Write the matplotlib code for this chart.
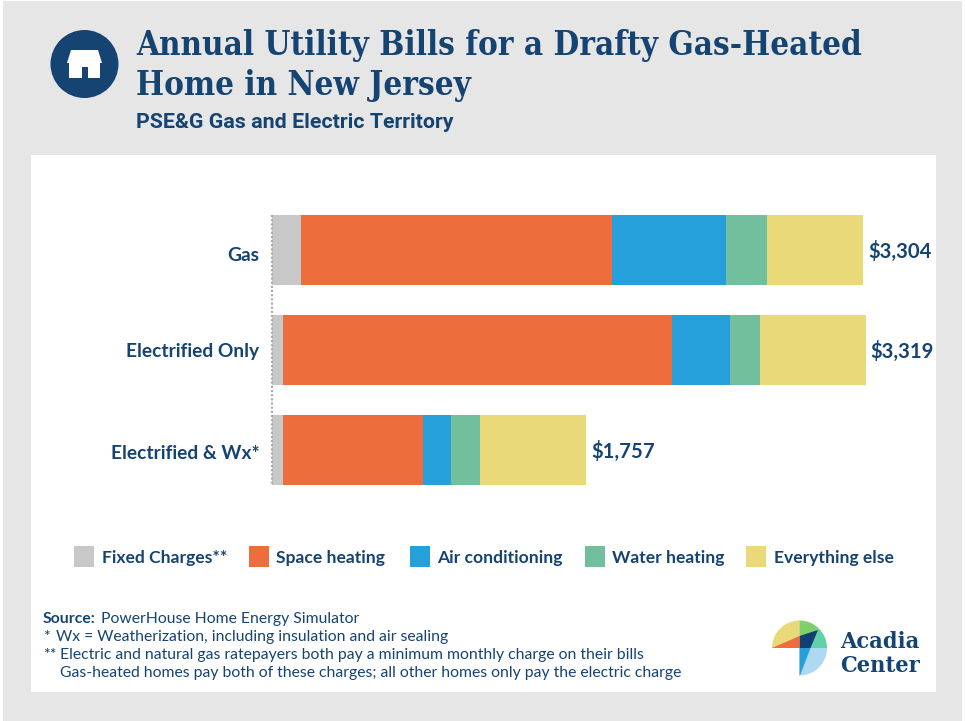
import matplotlib
matplotlib.use('Agg')
import matplotlib.pyplot as plt
from matplotlib.patches import Rectangle, Circle, Polygon, Wedge

categories = ['Gas', 'Electrified Only', 'Electrified & Wx*']
series_names = ['Fixed Charges**', 'Space heating', 'Air conditioning', 'Water heating', 'Everything else']
fixed = [165, 64, 64]
space = [1737, 2173, 785]
cooling = [637, 324, 154]
water = [229, 168, 162]
other = [536, 590, 592]
totals = ['$3,304', '$3,319', '$1,757']
colors = ['#c8c8c8', '#ed6d3c', '#25a0db', '#72bf9e', '#e9d978']
navy = '#154372'

W, H = 965, 721
fig = plt.figure(figsize=(W / 100, H / 100), dpi=100, facecolor='white')

# 背景层，坐标直接用像素
bg = fig.add_axes([0, 0, 1, 1])
bg.set_xlim(0, W)
bg.set_ylim(H, 0)
bg.axis('off')
bg.add_patch(Rectangle((3, 1), 959, 720, color='#e6e6e6', lw=0))
bg.add_patch(Rectangle((31, 155), 905, 537, color='white', lw=0))

# 房子图标
bg.add_patch(Circle((84.5, 64), 34, color=navy, lw=0))
bg.add_patch(Polygon([(71, 50), (98, 50), (102, 63), (100, 63), (100, 78), (88, 78), (88, 67),
                      (82, 67), (82, 78), (69, 78), (69, 63), (67, 63)], color='white', lw=0))

bg.text(136, 55, 'Annual Utility Bills for a Drafty Gas-Heated', color=navy, fontsize=23.8,
        family='DejaVu Serif', stretch='condensed', weight='bold', va='baseline', ha='left')
bg.text(136, 95, 'Home in New Jersey', color=navy, fontsize=23.8,
        family='DejaVu Serif', stretch='condensed', weight='bold', va='baseline', ha='left')
bg.text(136, 128, 'PSE&G Gas and Electric Territory', color=navy, fontsize=15.4,
        family='Roboto', weight='bold', va='baseline', ha='left')

# 堆叠条形图
ax = fig.add_axes([271.5 / W, 1 - 500 / H, (936 - 271.5) / W, (500 - 200) / H])
ax.set_xlim(0, (936 - 271.5) / 0.179)
ax.set_ylim(500, 200)
ax.axis('off')
ypos = [250, 350, 450]
label_shift = [-5, -1, -3]
left = [0, 0, 0]
for vals, name, c in zip([fixed, space, cooling, water, other], series_names, colors):
    ax.barh(ypos, vals, height=70, left=left, color=c, label=name)
    left = [a + b for a, b in zip(left, vals)]
ax.plot([0, 0], [215, 485], color='#a8a8a8', lw=1.5, ls=(0, (1, 1)), zorder=5, clip_on=False)
for y, cat, total, end, s in zip(ypos, categories, totals, left, label_shift):
    ax.annotate(cat, (0, y), xytext=(-12, s), textcoords='offset pixels', ha='right', va='center',
                color=navy, fontsize=13.8, family='Lato', weight='bold')
    ax.annotate(total, (end, y), xytext=(5, -1), textcoords='offset pixels', ha='left', va='center',
                color=navy, fontsize=14.6, family='Lato', weight='bold')

# 图例
legend_x = [74, 249, 410, 585, 746]
for x, name, c in zip(legend_x, series_names, colors):
    bg.add_patch(Rectangle((x, 546), 20, 21, color=c, lw=0))
    bg.text(x + 27.5, 558, name, color=navy, fontsize=12.6, family='Lato', weight='bold', va='center', ha='left')

# 注释
note_size = 11.3
bg.text(43, 619, 'Source:', color=navy, fontsize=note_size, family='Lato', weight='bold', va='center')
bg.text(101, 619, 'PowerHouse Home Energy Simulator', color=navy, fontsize=note_size, family='Lato', va='center')
bg.text(43, 637, '*', color=navy, fontsize=note_size, family='Lato', va='center')
bg.text(56, 637, 'Wx = Weatherization, including insulation and air sealing', color=navy, fontsize=note_size,
        family='Lato', va='center')
bg.text(43, 655, '**', color=navy, fontsize=note_size, family='Lato', va='center')
bg.text(60, 655, 'Electric and natural gas ratepayers both pay a minimum monthly charge on their bills', color=navy,
        fontsize=note_size, family='Lato', va='center')
bg.text(60, 673, 'Gas-heated homes pay both of these charges; all other homes only pay the electric charge', color=navy,
        fontsize=note_size, family='Lato', va='center')

# Acadia Center 标志，y轴向下所以角度是反的
cx, cy, r = 799.5, 648, 27.5
for t1, t2, c in [(180, 270, '#e9d978'), (270, 315, '#7fcf6a'), (315, 360, '#62d0a8'), (0, 90, '#aed9f2')]:
    bg.add_patch(Wedge((cx, cy), r, t1, t2, color=c, lw=0))
bg.add_patch(Polygon([(cx, cy - 12), (cx + 18.5, cy - 18), (cx + 11, cy), (cx, cy)], color='#0f3f73', lw=0))
bg.add_patch(Polygon([(cx - r, cy), (cx, cy - 12), (cx, cy)], color='#ed6d3c', lw=0))
bg.add_patch(Polygon([(cx, cy), (cx + 11, cy), (cx + 0.5, cy + r), (cx, cy + r)], color='#25a0db', lw=0))
bg.text(840, 648, 'Acadia', color=navy, fontsize=16.8, family='DejaVu Serif', stretch='condensed',
        weight='bold', va='baseline')
bg.text(840, 672, 'Center', color=navy, fontsize=16.8, family='DejaVu Serif', stretch='condensed',
        weight='bold', va='baseline')

fig.savefig('out.png', dpi=100)
